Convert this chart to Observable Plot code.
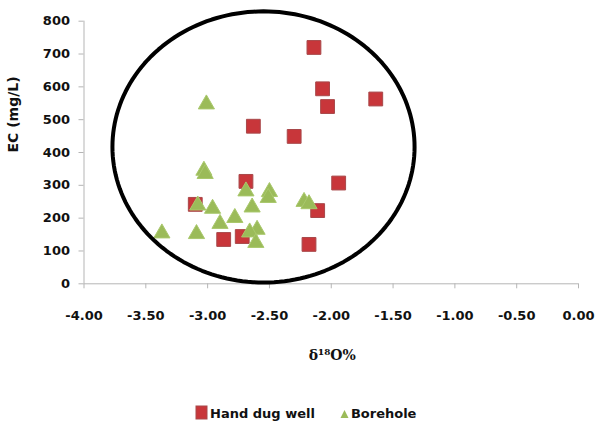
<!DOCTYPE html>
<html>
<head>
<meta charset="utf-8">
<script src="https://cdn.jsdelivr.net/npm/d3@7"></script>
<script src="https://cdn.jsdelivr.net/npm/@observablehq/plot@0.6"></script>
<style>
  html, body { margin: 0; padding: 0; background: #fff; width: 595px; height: 425px; overflow: hidden; position: relative; }
  #chart svg g[aria-label="x-axis tick"] path,
  #chart svg g[aria-label="y-axis tick"] path { stroke: #b5b5b5; }
  #legend { position: absolute; left: 195px; top: 403px; height: 20px; display: flex; align-items: center;
            font-family: "DejaVu Sans", sans-serif; font-weight: bold; font-size: 13px; color: #111; }
  #legend .item { display: flex; align-items: center; }
  #legend svg { display: block; }
</style>
</head>
<body>
<div id="chart"></div>
<div id="legend"></div>
<script>
// Hand dug well (squares)
const handDugX = [-2.14, -2.07, -2.03, -1.64, -2.63, -2.30, -2.69, -1.94, -3.10, -2.11, -2.87, -2.72, -2.18];
const handDugY = [720, 594, 540, 563, 480, 449, 312, 307, 242, 223, 135, 144, 120];
// Borehole (triangles)
const boreholeX = [-3.01, -3.03, -3.02, -2.69, -2.50, -2.51, -2.64, -3.08, -2.96, -2.78, -2.90, -3.37, -3.09, -2.60, -2.66, -2.61, -2.22, -2.18];
const boreholeY = [547, 345, 335, 282, 280, 262, 233, 239, 229, 201, 183, 154, 152, 165, 157, 125, 250, 243];
// Axis ticks
const xTicks = [-4, -3.5, -3, -2.5, -2, -1.5, -1, -0.5, 0];
const yTicks = [0, 100, 200, 300, 400, 500, 600, 700, 800];
// Annotation ellipse (data units): center and radii
const ellipseCenter = [-2.548, 417];
const ellipseRadii = [1.222, 413];

const handDug = handDugX.map((x, i) => ({x, y: handDugY[i]}));
const borehole = boreholeX.map((x, i) => ({x, y: boreholeY[i]}));
const ellipsePts = d3.range(0, 361, 2).map(a => {
  const t = a * Math.PI / 180;
  return {x: ellipseCenter[0] + ellipseRadii[0] * Math.cos(t), y: ellipseCenter[1] + ellipseRadii[1] * Math.sin(t)};
});

const chart = Plot.plot({
  width: 595,
  height: 375,
  marginLeft: 83.5,
  marginRight: 17,
  marginTop: 20.7,
  marginBottom: 91.7,
  style: {fontFamily: "DejaVu Sans, sans-serif", fontSize: "13px", fontWeight: "bold", color: "#111", background: "#fff"},
  x: {domain: [-4, 0], ticks: xTicks, tickFormat: d => d.toFixed(2), tickSize: 5, tickPadding: 22, label: null},
  y: {domain: [0, 800], ticks: yTicks, tickFormat: d => String(d), tickSize: 5, tickPadding: 9, label: null},
  marks: [
    Plot.ruleX([-4], {stroke: "#b5b5b5"}),
    Plot.ruleY([0], {stroke: "#b5b5b5"}),
    Plot.dot(handDug, {x: "x", y: "y", symbol: "square", r: 7.8, fill: "#c8363a", stroke: "#a8484a", strokeWidth: 1}),
    Plot.dot(borehole, {x: "x", y: "y", symbol: "triangle", r: 6, fill: "#9bbb59", stroke: "#a9c86c", strokeWidth: 1}),
    Plot.line(ellipsePts, {x: "x", y: "y", curve: "linear-closed", stroke: "#000", strokeWidth: 4}),
    Plot.text(["EC (mg/L)"], {frameAnchor: "left", rotate: -90, dx: -70, fontWeight: "bold", fontSize: 14, fill: "#111"}),
    Plot.text(["δ¹⁸O%"], {frameAnchor: "bottom", dy: 76, dx: 1, fontFamily: "DejaVu Serif, serif", fontWeight: "bold", fontSize: 14, fill: "#111"})
  ]
});
document.getElementById("chart").appendChild(chart);

// Legend
const legend = document.getElementById("legend");
const items = [
  {label: "Hand dug well", swatch: '<svg width="14" height="16"><rect x="1" y="1" width="11" height="13" fill="#c8363a" stroke="#a8484a"/></svg>', gap: 24},
  {label: "Borehole", swatch: '<svg width="11" height="16"><path d="M1.5,13 L5.5,5 L9.5,13 Z" fill="#9bbb59"/></svg>', gap: 0}
];
items.forEach(it => {
  const d = document.createElement("div");
  d.className = "item";
  d.style.marginRight = it.gap + "px";
  d.innerHTML = it.swatch + '<span style="margin-left:1px">' + it.label + '</span>';
  legend.appendChild(d);
});
</script>
</body>
</html>
